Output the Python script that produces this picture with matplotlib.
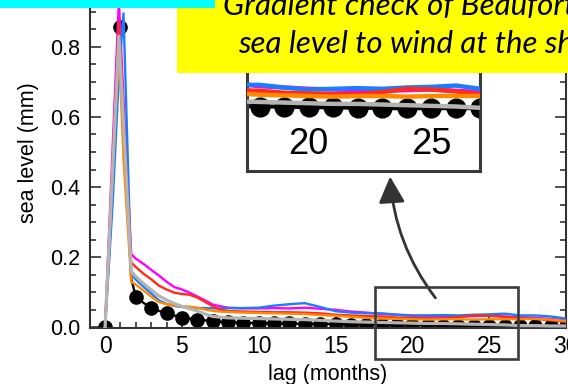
import numpy as np
import matplotlib
matplotlib.use('Agg')
import matplotlib.pyplot as plt
from matplotlib.patches import Rectangle
from matplotlib.ticker import MultipleLocator, FormatStrFormatter
import matplotlib.transforms as mtransforms

plt.rcParams['font.family'] = 'Liberation Sans'

# lag grid for the lines (months)
lag = [0, 0.5, 0.9, 1.2, 1.7, 2, 2.5, 3, 3.5, 4, 4.5, 5, 5.5, 6, 6.5, 7, 7.5, 8,
       9, 10, 11, 12, 13, 14, 15, 16, 17, 18, 19, 20, 21, 22, 23, 24, 25, 26, 27, 28, 29, 30]

magenta = [0, 0.52, 0.93, 0.65, 0.209, 0.196, 0.181, 0.164, 0.148, 0.13, 0.115, 0.108, 0.099, 0.088,
           0.077, 0.065, 0.06, 0.056, 0.054, 0.054, 0.055, 0.054, 0.056, 0.053, 0.05, 0.045, 0.042,
           0.038, 0.036, 0.034, 0.033, 0.032, 0.031, 0.032, 0.033, 0.031, 0.029, 0.027, 0.024, 0.02]
blue = [0, 0.36, 0.72, 0.895, 0.152, 0.136, 0.116, 0.097, 0.077, 0.067, 0.061, 0.058, 0.056, 0.055,
        0.055, 0.054, 0.054, 0.055, 0.055, 0.056, 0.062, 0.066, 0.069, 0.058, 0.046, 0.042, 0.04,
        0.04, 0.036, 0.033, 0.034, 0.035, 0.034, 0.036, 0.037, 0.039, 0.034, 0.034, 0.031, 0.025]
red = [0, 0.48, 0.87, 0.61, 0.185, 0.172, 0.153, 0.137, 0.119, 0.108, 0.099, 0.095, 0.093, 0.085,
       0.073, 0.06, 0.05, 0.047, 0.045, 0.044, 0.043, 0.043, 0.042, 0.04, 0.036, 0.034, 0.032,
       0.031, 0.028, 0.027, 0.026, 0.026, 0.029, 0.034, 0.033, 0.03, 0.026, 0.024, 0.02, 0.016]
orange = [0, 0.44, 0.80, 0.48, 0.13, 0.122, 0.105, 0.088, 0.072, 0.066, 0.062, 0.06, 0.059, 0.056,
          0.051, 0.047, 0.045, 0.044, 0.042, 0.041, 0.04, 0.039, 0.038, 0.035, 0.033, 0.03, 0.027,
          0.025, 0.024, 0.023, 0.022, 0.023, 0.023, 0.022, 0.023, 0.023, 0.023, 0.024, 0.022, 0.018]
grey = [0, 0.46, 0.83, 0.58, 0.16, 0.145, 0.125, 0.107, 0.09, 0.078, 0.068, 0.06, 0.053, 0.047,
        0.038, 0.031, 0.029, 0.027, 0.026, 0.025, 0.024, 0.023, 0.022, 0.02, 0.018, 0.016, 0.015,
        0.014, 0.013, 0.012, 0.011, 0.011, 0.01, 0.009, 0.008, 0.007, 0.005, 0.005, 0.004, 0.004]
black = [0, 0.40, 0.78, 0.58, 0.14, 0.087, 0.07, 0.054, 0.047, 0.04, 0.034, 0.028, 0.025, 0.022,
         0.02, 0.018, 0.016, 0.015, 0.013, 0.012, 0.011, 0.011, 0.01, 0.01, 0.009, 0.008, 0.008,
         0.007, 0.007, 0.006, 0.006, 0.005, 0.005, 0.004, 0.005, 0.004, 0.005, 0.004, 0.004, 0.004]

# monthly dots
lag_m = list(range(31))
dots = [0, 0.855, 0.087, 0.054, 0.04, 0.028, 0.022, 0.018, 0.015, 0.013, 0.012, 0.011, 0.011,
        0.01, 0.01, 0.009, 0.008, 0.008, 0.007, 0.007, 0.006, 0.006, 0.005, 0.005, 0.004, 0.005,
        0.004, 0.005, 0.004, 0.004, 0.004]

xticks = [0, 5, 10, 15, 20, 25, 30]
inset_ticks = [20, 25]
title1 = 'Gradient check of Beaufort Gyre'
title2 = 'sea level to wind at the shelf'

W, H = 568, 384
fig = plt.figure(figsize=(W / 100, H / 100), dpi=100)

def px_box(left, top, right, bottom):
    return [left / W, 1 - bottom / H, (right - left) / W, (bottom - top) / H]

series = [(magenta, '#ff00ff'), (blue, '#1c7cff'), (red, '#ff2b1c'), (orange, '#ff8a00')]

# main axes
ax = fig.add_axes(px_box(89.7, -22.7, 566, 328.4))
ax.plot(lag_m, dots, 'o', color='black', ms=9.5, zorder=2)
ax.plot(lag, black, color='black', lw=1.7, zorder=2)
for y, c in series:
    ax.plot(lag, y, color=c, lw=1.7, zorder=3)
ax.plot(lag, grey, color='#b4b4b4', lw=2.3, zorder=4)

ax.set_xlim(-1, 30)
ax.set_ylim(-0.003, 0.998)
ax.set_xticks(xticks)
ax.xaxis.set_minor_locator(MultipleLocator(1))
ax.yaxis.set_major_locator(MultipleLocator(0.2))
ax.yaxis.set_minor_locator(MultipleLocator(0.05))
ax.yaxis.set_major_formatter(FormatStrFormatter('%.1f'))
ax.tick_params(which='both', direction='in', top=True, right=True, width=1.2, color='#333333')
ax.tick_params(which='major', length=8)
ax.tick_params(which='minor', length=4.5)
ax.tick_params(axis='x', labelsize=16.5, pad=5)
ax.tick_params(axis='y', labelsize=15.5, pad=7)
for s in ax.spines.values():
    s.set_linewidth(1.5)
    s.set_color('#333333')
ax.set_xlabel('lag (months)', fontsize=15.5, labelpad=4)
ax.set_ylabel('sea level (mm)', fontsize=15.5, labelpad=8)

# zoom box and arrow
ax.add_patch(Rectangle((17.6, -0.09), 9.3, 0.206, fill=False, lw=1.9,
                       edgecolor='#3c3c3c', clip_on=False, zorder=5))
ax.annotate('', xy=(18.55, 0.43), xytext=(21.5, 0.084),
            arrowprops=dict(arrowstyle='-|>,head_length=0.8,head_width=0.4', mutation_scale=20,
                            connectionstyle='arc3,rad=-0.15', lw=2, color='#333333',
                            shrinkA=0, shrinkB=0))

# inset
axi = fig.add_axes(px_box(247.3, 60, 480.5, 170.7), zorder=2)
axi.plot(lag_m, dots, 'o', color='black', ms=13.5, zorder=2)
axi.plot(lag, black, color='black', lw=3, zorder=2)
for y, c in series:
    axi.plot(lag, y, color=c, lw=3.2, zorder=3)
axi.plot(lag, grey, color='#b4b4b4', lw=3.2, zorder=4)
axi.set_xlim(17.5, 27.0)
axi.set_ylim(-0.091, 0.078)
axi.set_xticks([])
axi.set_yticks([])
for s in axi.spines.values():
    s.set_linewidth(2.2)
    s.set_color('#3a3a3a')
trans = mtransforms.blended_transform_factory(axi.transData, axi.transAxes)
for t in inset_ticks:
    axi.text(t, 0.24, str(t), transform=trans, ha='center', va='center', fontsize=26)

# slide boxes on top
fig.add_artist(Rectangle((177 / W, 1 - 72.7 / H), 1, 72.7 / H, transform=fig.transFigure,
                         facecolor='#ffff00', edgecolor='none', zorder=10))
fig.add_artist(Rectangle((0, 1 - 8.3 / H), 215 / W, 8.3 / H, transform=fig.transFigure,
                         facecolor='#00ffff', edgecolor='none', zorder=11))
fig.text(223 / W, 1 - 15 / H, title1, fontsize=22.5, style='italic', family='Lato',
         va='baseline', zorder=12)
fig.text(238 / W, 1 - 53 / H, title2, fontsize=22.5, style='italic', family='Lato',
         va='baseline', zorder=12)

fig.savefig('out.png', dpi=100)
